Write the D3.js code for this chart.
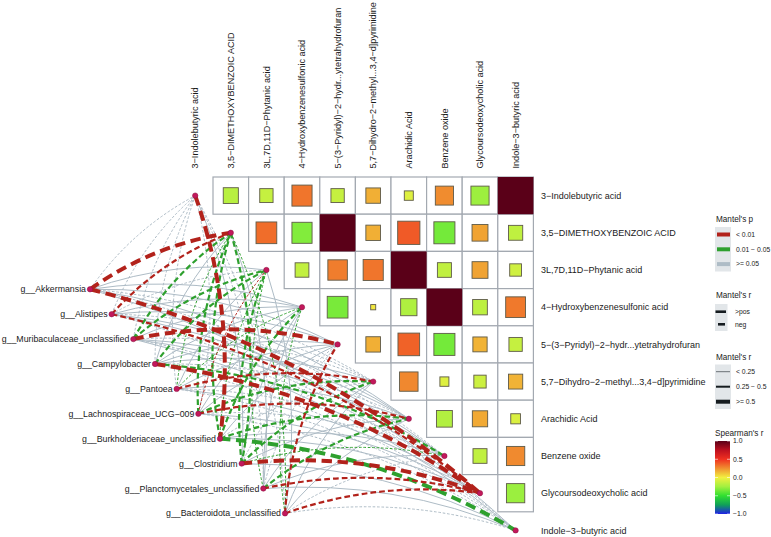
<!DOCTYPE html>
<html><head><meta charset="utf-8">
<script src="https://cdn.jsdelivr.net/npm/d3@7"></script>
<style>body{margin:0;background:#fff;} text{font-family:"Liberation Sans",Arial,sans-serif;fill:#1a1a1a;}</style>
</head><body><svg id="c" width="771" height="537"></svg>
<script>
// ---------- data ----------
const metabolites = ["3−Indolebutyric acid","3,5−DIMETHOXYBENZOIC ACID","3L,7D,11D−Phytanic acid","4−Hydroxybenzenesulfonic acid","5−(3−Pyridyl)−2−hydr...ytetrahydrofuran","5,7−Dihydro−2−methyl...3,4−d]pyrimidine","Arachidic Acid","Benzene oxide","Glycoursodeoxycholic acid","Indole−3−butyric acid"];
const species = ["g__Akkermansia","g__Alistipes","g__Muribaculaceae_unclassified","g__Campylobacter","g__Pantoea","g__Lachnospiraceae_UCG−009","g__Burkholderiaceae_unclassified","g__Clostridium","g__Planctomycetales_unclassified","g__Bacteroidota_unclassified"];
// Spearman's r, upper triangle (row i holds columns i+1..9)
const spearman = [
  [-0.18,-0.14,0.32,-0.14,0.17,-0.064,0.26,-0.26,1],
  [0.34,-0.32,1,0.17,0.39,-0.35,0.2,-0.16],
  [-0.15,0.3,0.32,1,-0.155,0.2,-0.11],
  [-0.34,0.02,-0.21,1,-0.17,0.31],
  [0.17,0.37,-0.35,0.16,-0.14],
  [0.27,-0.064,-0.12,0.16],
  [-0.2,0.185,-0.074],
  [-0.155,0.265],
  [-0.265]
];
// Mantel's r (rows: species, cols: metabolites)
const mantelR = [
  [0.08,0.55,-0.1,-0.1,-0.1,0.08,-0.1,0.08,0.55,-0.1],
  [0.06,0.38,0.09,-0.12,-0.08,0.05,-0.11,-0.07,0.36,0.04],
  [0.07,0.31,0.29,-0.09,0.56,0.05,-0.13,-0.1,0.06,-0.08],
  [0.05,-0.1,0.3,-0.11,-0.09,-0.12,0.07,0.28,0.53,0.06],
  [0.04,0.2,-0.1,0.19,-0.08,0.33,-0.09,0.06,-0.1,0.05],
  [0.05,0.3,0.2,-0.11,-0.1,0.3,0.34,0.05,-0.09,0.04],
  [0.58,0.3,0.2,0.29,-0.1,0.06,0.31,-0.12,-0.1,0.52],
  [-0.1,0.3,0.28,-0.09,0.07,0.3,-0.11,0.2,0.57,-0.1],
  [0.05,-0.09,0.19,-0.1,0.06,-0.11,0.3,-0.1,0.34,-0.09],
  [0.05,0.18,-0.1,0.19,0.33,-0.1,-0.1,0.06,0.35,0.07]
];
// Mantel's p
const mantelP = [
  [0.5,0.001,0.3,0.3,0.3,0.5,0.3,0.5,0.001,0.3],
  [0.62,0.004,0.41,0.28,0.35,0.7,0.22,0.4,0.006,0.8],
  [0.55,0.02,0.03,0.33,0.001,0.66,0.21,0.3,0.58,0.37],
  [0.6,0.31,0.02,0.25,0.33,0.24,0.52,0.03,0.002,0.57],
  [0.7,0.04,0.3,0.04,0.36,0.006,0.34,0.6,0.29,0.64],
  [0.66,0.02,0.008,0.27,0.3,0.02,0.005,0.61,0.32,0.72],
  [0.001,0.02,0.04,0.03,0.29,0.55,0.02,0.26,0.31,0.02],
  [0.3,0.02,0.03,0.35,0.5,0.02,0.27,0.04,0.001,0.3],
  [0.64,0.33,0.04,0.3,0.56,0.27,0.02,0.3,0.007,0.33],
  [0.7,0.04,0.31,0.04,0.006,0.3,0.32,0.58,0.005,0.5]
];
const pLabels = ["< 0.01","0.01 − 0.05",">= 0.05"];
const signLabels = [">pos","neg"];
const rLabels = ["< 0.25","0.25 − 0.5",">= 0.5"];
const colorTicks = [1.0,0.5,0.0,-0.5,-1.0];

// ---------- scales ----------
const svg = d3.select("#c");
const x = d3.scaleBand().domain(metabolites).range([177.4,533.4]);
const y = d3.scaleBand().domain(metabolites).range([177,549]);
const bw = x.bandwidth(), bh = y.bandwidth();
const sx = d3.scalePoint().domain(species).range([90,285]);
const sy = d3.scalePoint().domain(species).range([289.3,513.4]);
const colorStops = [-1,-0.75,-0.5,-0.25,0,0.25,0.5,0.75,1];
const colorVals = ["#2020e6","#10a058","#30e030","#a2f040","#f2f040","#f09030","#f03020","#bd1020","#5a0018"];
const fill = d3.scaleLinear().domain(colorStops).range(colorVals);
const pColors = ["#B2221B","#2EA02E","#AEBCC6"];
const pColor = d3.scaleThreshold().domain([0.01,0.05]).range(pColors);
const rWidth = d3.scaleThreshold().domain([0.25,0.5]).range([1,2.2,4]);

// ---------- links ----------
const links = [];
species.forEach((s,i)=>metabolites.forEach((m,j)=>{
  links.push({s,m,r:mantelR[i][j],p:mantelP[i][j]});
}));
links.sort((a,b)=> (b.p - a.p) || (Math.abs(a.r)-Math.abs(b.r)));
function linkPath(d){
  let a=[sx(d.s),sy(d.s)], b=[x(d.m)+bw/2, y(d.m)+bh/2];
  if (a[0]>b[0]) [a,b]=[b,a];
  const dx=b[0]-a[0], dy=b[1]-a[1], k=0.12;
  const cx=(a[0]+b[0])/2 + k*dy, cy=(a[1]+b[1])/2 - k*dx;
  const p=d3.path(); p.moveTo(a[0],a[1]); p.quadraticCurveTo(cx,cy,b[0],b[1]); return p.toString();
}
svg.append("g").selectAll("path").data(links).join("path")
  .attr("d",linkPath).attr("fill","none")
  .attr("stroke",d=>pColor(d.p))
  .attr("stroke-width",d=>rWidth(Math.abs(d.r)))
  .attr("stroke-dasharray",d=>{ if(d.r<=0) return null; const w=rWidth(Math.abs(d.r)); return [Math.max(2.4,2.6*w),Math.max(1.8,1.4*w)].join(","); });

// ---------- heatmap ----------
const cells=[];
spearman.forEach((row,i)=>row.forEach((v,k)=>cells.push({i,j:i+1+k,v})));
const gCells = svg.append("g");
gCells.selectAll("rect.bg").data(cells).join("rect").attr("class","bg")
  .attr("x",d=>x(metabolites[d.j])).attr("y",d=>y(metabolites[d.i]))
  .attr("width",bw).attr("height",bh).attr("fill","#fff")
  .attr("stroke","#a3a9b1").attr("stroke-width",1.2);
gCells.selectAll("rect.sq").data(cells).join("rect").attr("class","sq")
  .attr("x",d=>x(metabolites[d.j])+bw*(1-Math.sqrt(Math.abs(d.v)))/2)
  .attr("y",d=>y(metabolites[d.i])+bh*(1-Math.sqrt(Math.abs(d.v)))/2)
  .attr("width",d=>bw*Math.sqrt(Math.abs(d.v))).attr("height",d=>bh*Math.sqrt(Math.abs(d.v)))
  .attr("fill",d=>fill(d.v)).attr("stroke",d=>Math.abs(d.v)>=0.99?"none":"#5e5a48").attr("stroke-width",0.9);

// ---------- nodes ----------
svg.append("g").selectAll("circle").data(metabolites).join("circle")
  .attr("cx",m=>x(m)+bw/2).attr("cy",m=>y(m)+bh/2).attr("r",2.7)
  .attr("fill","#c2185b").attr("stroke","#8a1040").attr("stroke-width",0.5);
svg.append("g").selectAll("circle").data(species).join("circle")
  .attr("cx",sx).attr("cy",sy).attr("r",2.7)
  .attr("fill","#c2185b").attr("stroke","#8a1040").attr("stroke-width",0.5);

// ---------- labels ----------
svg.append("g").selectAll("text").data(metabolites).join("text")
  .attr("transform",m=>`translate(${x(m)+bw/2},168.5) rotate(-90)`)
  .attr("dy","0.35em").attr("font-size",9.1).text(m=>m);
svg.append("g").selectAll("text").data(metabolites).join("text")
  .attr("x",541).attr("y",m=>y(m)+bh/2).attr("dy","0.35em").attr("font-size",9).text(m=>m);
svg.append("g").selectAll("text").data(species).join("text")
  .attr("x",s=>sx(s)-4).attr("y",sy).attr("dy","0.35em").attr("text-anchor","end")
  .attr("font-size",8.8).text(s=>s);

// ---------- legends ----------
const lg = svg.append("g");
const keyX=715, keyW=16;
// Mantel's p
lg.append("text").attr("x",716).attr("y",219).attr("dy","0.35em").attr("font-size",8.2).text("Mantel's p");
lg.append("rect").attr("x",keyX).attr("y",227).attr("width",keyW).attr("height",44.5).attr("fill","#e2e6e9");
pLabels.forEach((t,i)=>{
  const cy=234.5+i*14.8;
  lg.append("line").attr("x1",keyX+2).attr("x2",keyX+keyW-1).attr("y1",cy).attr("y2",cy)
    .attr("stroke",pColors[i]).attr("stroke-width",4);
  lg.append("text").attr("x",736).attr("y",cy).attr("dy","0.35em").attr("font-size",6.8).text(t);
});
// Mantel's r (sign)
lg.append("text").attr("x",716).attr("y",295).attr("dy","0.35em").attr("font-size",8.2).text("Mantel's r");
lg.append("rect").attr("x",keyX).attr("y",304).attr("width",12.5).attr("height",27).attr("fill","#e2e6e9");
signLabels.forEach((t,i)=>{
  const cy=311.7+i*12.6;
  lg.append("line").attr("x1",i?718:715.5).attr("x2",i?725:726).attr("y1",cy).attr("y2",cy)
    .attr("stroke","#161c20").attr("stroke-width",i?2.6:2.6);
  lg.append("text").attr("x",735).attr("y",cy).attr("dy","0.35em").attr("font-size",6.8).text(t);
});
// Mantel's r (width)
lg.append("text").attr("x",716).attr("y",357).attr("dy","0.35em").attr("font-size",8.2).text("Mantel's r");
lg.append("rect").attr("x",keyX).attr("y",364.5).attr("width",keyW).attr("height",44.5).attr("fill","#e2e6e9");
rLabels.forEach((t,i)=>{
  const cy=371.7+i*15;
  lg.append("line").attr("x1",keyX+1).attr("x2",keyX+keyW-1).attr("y1",cy).attr("y2",cy)
    .attr("stroke",i?"#161c20":"#6a7076").attr("stroke-width",[1,2,4][i]);
  lg.append("text").attr("x",736).attr("y",cy).attr("dy","0.35em").attr("font-size",6.8).text(t);
});
// Spearman's r colourbar
lg.append("text").attr("x",715).attr("y",433).attr("dy","0.35em").attr("font-size",8.2).text("Spearman's r");
const grad = svg.append("defs").append("linearGradient").attr("id","sg")
  .attr("x1",0).attr("x2",0).attr("y1",1).attr("y2",0);
colorStops.forEach((s,i)=>grad.append("stop").attr("offset",(s+1)/2).attr("stop-color",colorVals[i]));
const cbY = d3.scaleLinear().domain([-1,1]).range([514,441]);
lg.append("rect").attr("x",715).attr("y",441).attr("width",15).attr("height",73).attr("fill","url(#sg)");
colorTicks.forEach(t=>{
  lg.append("line").attr("x1",715).attr("x2",718).attr("y1",cbY(t)).attr("y2",cbY(t)).attr("stroke","#fff").attr("stroke-width",0.6);
  lg.append("line").attr("x1",727).attr("x2",730).attr("y1",cbY(t)).attr("y2",cbY(t)).attr("stroke","#fff").attr("stroke-width",0.6);
  lg.append("text").attr("x",733).attr("y",cbY(t)).attr("dy","0.35em").attr("font-size",6.8).text(d3.format(".1f")(t).replace("-","−"));
});
</script></body></html>
